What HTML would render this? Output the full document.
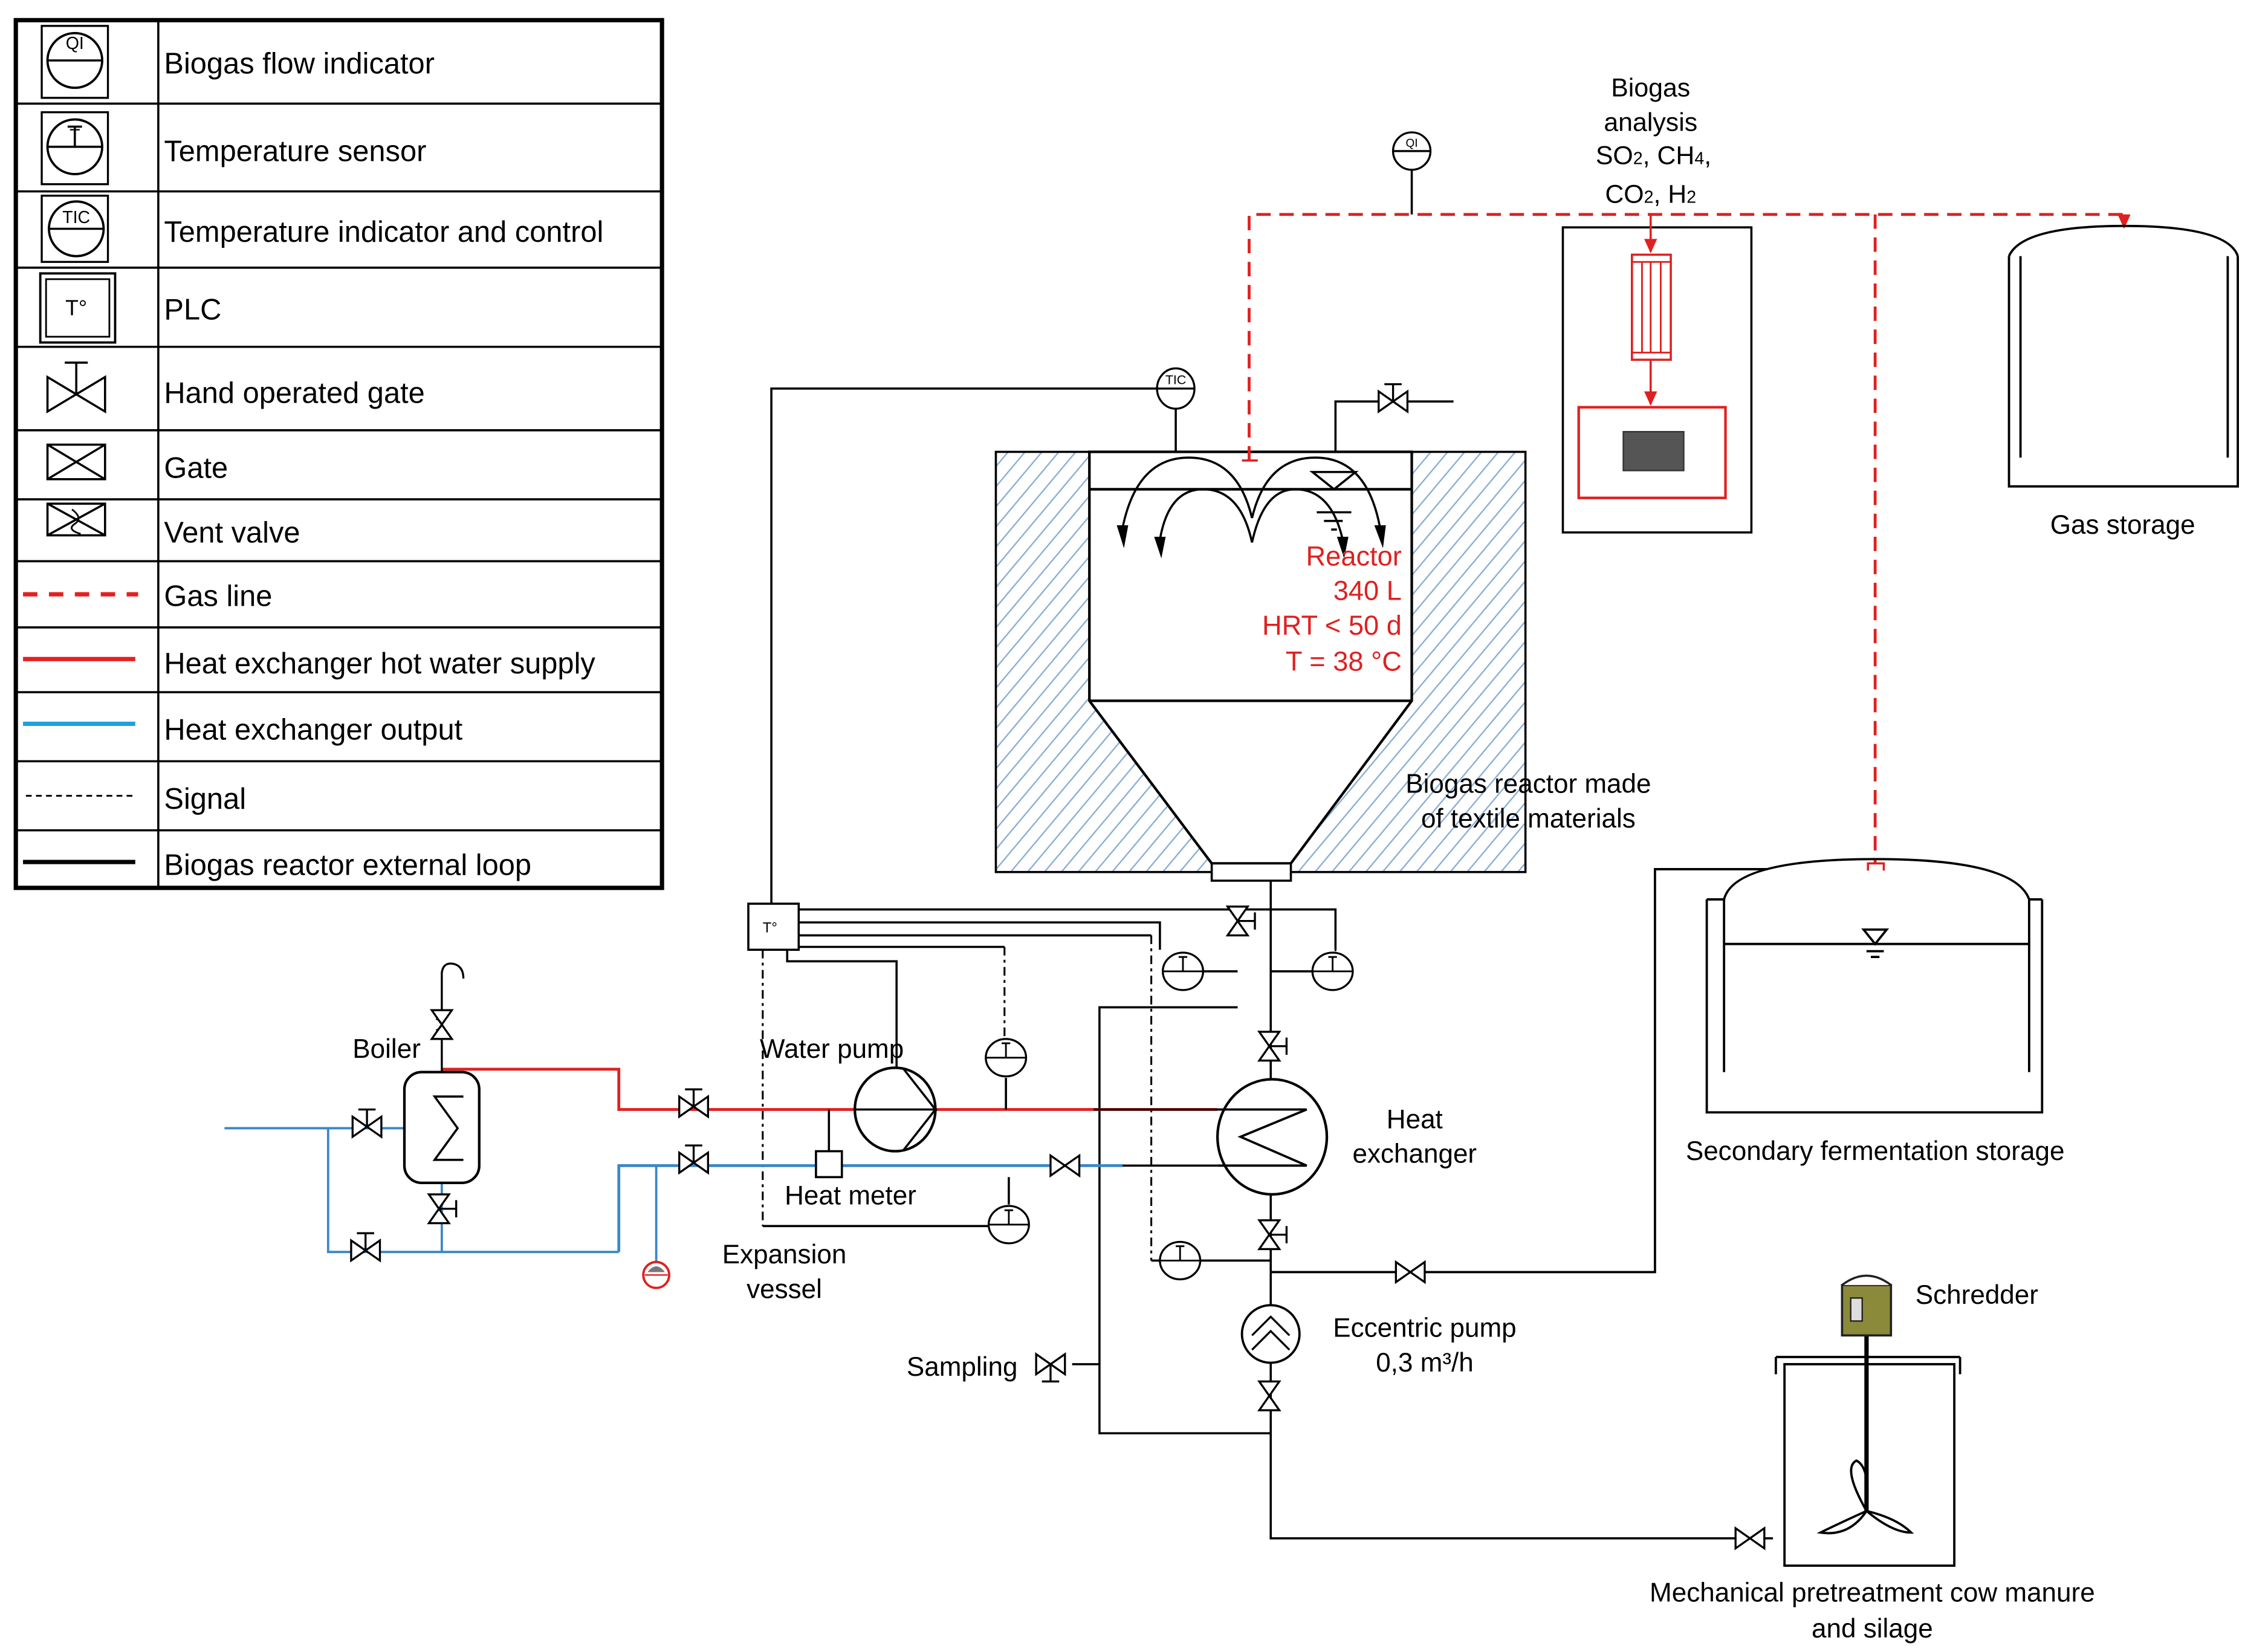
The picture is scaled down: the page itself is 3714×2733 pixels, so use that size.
<!DOCTYPE html>
<html><head><meta charset="utf-8"><style>
html,body{margin:0;padding:0;background:#fff}
svg{display:block}
text{font-family:"Liberation Sans",Arial,sans-serif}
</style></head><body>
<svg width="3714" height="2733" viewBox="0 0 1560 1148" preserveAspectRatio="none" xmlns="http://www.w3.org/2000/svg">
<defs>
<pattern id="hatch" width="9" height="9" patternUnits="userSpaceOnUse" patternTransform="rotate(40)">
<rect width="9" height="9" fill="#fff"/>
<line x1="0" y1="0" x2="0" y2="9" stroke="#8aaed6" stroke-width="2"/>
</pattern>
<g id="gate"><path d="M-10,-7 L10,7 L10,-7 L-10,7 Z" fill="#fff" stroke="#000" stroke-width="1.4"/></g>
<g id="hand"><path d="M-10,-7 L10,7 L10,-7 L-10,7 Z" fill="#fff" stroke="#000" stroke-width="1.4"/><path d="M0,0 V-12 M-6,-12 H6" stroke="#000" stroke-width="1.4" fill="none"/></g>
<g id="tsens"><ellipse cx="0" cy="0" rx="14" ry="13" fill="#fff" stroke="#000" stroke-width="1.4"/><path d="M-14,0 H14 M0,0 V-10 M-3,-10 H3" stroke="#000" stroke-width="1.2" fill="none"/></g>
<marker id="ar" markerUnits="userSpaceOnUse" markerWidth="11" markerHeight="8" refX="10" refY="4" orient="auto"><path d="M0,0 L11,4 L0,8 Z" fill="#000"/></marker>
<marker id="arr" markerUnits="userSpaceOnUse" markerWidth="10" markerHeight="9" refX="9" refY="4.5" orient="auto"><path d="M0,0 L10,4.5 L0,9 Z" fill="#e02020"/></marker>
</defs>

<!-- LEGEND -->
<g stroke="#000" fill="none">
<rect x="11" y="14" width="449" height="603" stroke-width="3"/>
<line x1="110" y1="14" x2="110" y2="617" stroke-width="1.5"/>
<g stroke-width="1.5">
<line x1="11" y1="72" x2="460" y2="72"/><line x1="11" y1="133" x2="460" y2="133"/>
<line x1="11" y1="186" x2="460" y2="186"/><line x1="11" y1="241" x2="460" y2="241"/>
<line x1="11" y1="299" x2="460" y2="299"/><line x1="11" y1="347" x2="460" y2="347"/>
<line x1="11" y1="390" x2="460" y2="390"/><line x1="11" y1="436" x2="460" y2="436"/>
<line x1="11" y1="481" x2="460" y2="481"/><line x1="11" y1="529" x2="460" y2="529"/>
<line x1="11" y1="577" x2="460" y2="577"/>
</g>
<rect x="29" y="18" width="46" height="50" stroke-width="1.4"/>
<circle cx="52" cy="42" r="19" stroke-width="1.6"/><line x1="33" y1="42" x2="71" y2="42" stroke-width="1.5"/>
<rect x="29" y="78" width="46" height="50" stroke-width="1.4"/>
<circle cx="52" cy="102" r="19" stroke-width="1.6"/><path d="M33,102 H71 M52,102 V88 M47,88 H57" stroke-width="1.5"/>
<rect x="29" y="136" width="46" height="46" stroke-width="1.4"/>
<circle cx="53" cy="159" r="19" stroke-width="1.6"/><line x1="34" y1="159" x2="72" y2="159" stroke-width="1.5"/>
<rect x="28" y="190" width="52" height="48" stroke-width="1.6"/><rect x="32" y="194" width="44" height="40" stroke-width="1.2"/>
<path d="M33,262 L73,286 L73,262 L33,286 Z M53,274 V252 M45,252 H61" stroke-width="1.5"/>
<path d="M33,309 L73,333 M73,309 L33,333" stroke-width="1.5"/><rect x="33" y="309" width="40" height="24" stroke-width="1.5"/>
<path d="M33,350 L73,372 M73,350 L33,372" stroke-width="1.5"/><rect x="33" y="350" width="40" height="22" stroke-width="1.5"/>
<path d="M50,354 Q58,360 52,364 Q46,368 56,371" stroke-width="1.2"/>
<line x1="16" y1="413" x2="96" y2="413" stroke="#e52020" stroke-width="3" stroke-dasharray="10,8"/>
<line x1="16" y1="458" x2="94" y2="458" stroke="#e52020" stroke-width="3"/>
<line x1="16" y1="503" x2="94" y2="503" stroke="#1ea0e0" stroke-width="3"/>
<line x1="18" y1="553" x2="94" y2="553" stroke-width="1.3" stroke-dasharray="4,3"/>
<line x1="16" y1="599" x2="94" y2="599" stroke-width="3"/>
</g>
<g font-size="12" text-anchor="middle"><text x="52" y="34">QI</text><text x="52" y="98">T</text><text x="53" y="155">TIC</text><text x="53" y="219" font-size="15">T°</text></g>
<g font-size="20.5" fill="#000">
<text x="114" y="51">Biogas flow indicator</text>
<text x="114" y="112">Temperature sensor</text>
<text x="114" y="168">Temperature indicator and control</text>
<text x="114" y="222">PLC</text>
<text x="114" y="280">Hand operated gate</text>
<text x="114" y="332">Gate</text>
<text x="114" y="377">Vent valve</text>
<text x="114" y="421">Gas line</text>
<text x="114" y="468">Heat exchanger hot water supply</text>
<text x="114" y="514">Heat exchanger output</text>
<text x="114" y="562">Signal</text>
<text x="114" y="608">Biogas reactor external loop</text>
</g>

<!-- REACTOR -->
<rect x="692" y="314" width="368" height="292" fill="url(#hatch)" stroke="#000" stroke-width="1.5"/>
<path d="M757,314 H981 V487 L897,600 H842 L757,487 Z" fill="#fff" stroke="#000" stroke-width="1.8"/>
<line x1="757" y1="487" x2="981" y2="487" stroke="#000" stroke-width="1.8"/>
<line x1="757" y1="340" x2="981" y2="340" stroke="#000" stroke-width="1.8"/>
<rect x="842" y="600" width="55" height="12" fill="#fff" stroke="#000" stroke-width="1.5"/>
<g fill="none" stroke="#000" stroke-width="1.5">
<path d="M780,367 Q790,318 826,318 Q860,318 870,360"/>
<path d="M870,360 Q880,318 914,318 Q950,318 959,367"/>
<path d="M806,375 Q812,340 836,340 Q862,340 870,377"/>
<path d="M870,377 Q878,340 900,340 Q925,340 933,375"/>
<path d="M912,328 H942 L927,340 Z"/>
<path d="M915,356 H939 M920,362 H933 M925,368 H929"/>
</g>
<g fill="#000">
<path d="M776,365 L784,365 L781,381 Z"/>
<path d="M955,365 L963,365 L961,381 Z"/>
<path d="M802,373 L810,373 L807,388 Z"/>
<path d="M929,373 L937,373 L934,388 Z"/>
</g>
<g fill="#e02020" font-size="19" text-anchor="end">
<text x="974" y="393">Reactor</text><text x="974" y="417">340 L</text>
<text x="974" y="441">HRT &lt; 50 d</text><text x="974" y="466">T = 38 °C</text>
</g>
<g font-size="18.5" text-anchor="middle"><text x="1062" y="551">Biogas reactor made</text><text x="1062" y="575">of textile materials</text></g>

<!-- TIC and top valve -->
<g fill="none" stroke="#000" stroke-width="1.5">
<path d="M536,628 V270 H817 V314"/>
<path d="M928,314 V279 H1010"/>
</g>
<ellipse cx="817" cy="270" rx="13" ry="14" fill="#fff" stroke="#000" stroke-width="1.4"/>
<line x1="804" y1="270" x2="830" y2="270" stroke="#000" stroke-width="1.4"/>
<text x="817" y="267" font-size="9" text-anchor="middle">TIC</text>
<use href="#hand" x="968" y="279"/>

<!-- GAS LINES -->
<g fill="none" stroke="#e02020" stroke-width="2" stroke-dasharray="10,6">
<path d="M868,320 V149 H1476"/>
<path d="M1303,149 V600"/>
</g>
<path d="M863,320 H874 M868,320 V314" stroke="#e02020" stroke-width="1.5" fill="none"/>
<path d="M1298,605 V600 H1309 V605" stroke="#e02020" stroke-width="1.5" fill="none"/>
<line x1="1476" y1="149" x2="1476" y2="158" stroke="#e02020" stroke-width="2" marker-end="url(#arr)"/>
<line x1="981" y1="118" x2="981" y2="149" stroke="#000" stroke-width="1.5"/>
<circle cx="981" cy="105" r="13" fill="#fff" stroke="#000" stroke-width="1.4"/>
<line x1="968" y1="105" x2="994" y2="105" stroke="#000" stroke-width="1.4"/>
<text x="981" y="102" font-size="8" text-anchor="middle">QI</text>

<!-- Biogas analysis -->
<rect x="1086" y="158" width="131" height="212" fill="#fff" stroke="#000" stroke-width="1.5"/>
<line x1="1147" y1="149" x2="1147" y2="175" stroke="#e02020" stroke-width="1.5" marker-end="url(#arr)"/>
<rect x="1134" y="177" width="27" height="73" fill="#fff" stroke="#e02020" stroke-width="1.5"/>
<path d="M1134,182 H1161 M1134,245 H1161 M1141,182 V245 M1147,182 V245 M1154,182 V245" stroke="#e02020" stroke-width="1.2"/>
<line x1="1147" y1="250" x2="1147" y2="281" stroke="#e02020" stroke-width="1.5" marker-end="url(#arr)"/>
<rect x="1097" y="283" width="102" height="63" fill="#fff" stroke="#e02020" stroke-width="1.8"/>
<rect x="1128" y="300" width="42" height="27" fill="#555" stroke="#333"/>
<g font-size="18" text-anchor="middle"><text x="1147" y="67">Biogas</text><text x="1147" y="91">analysis</text>
<text x="1149" y="114">SO<tspan font-size="12">2</tspan>, CH<tspan font-size="12">4</tspan>,</text>
<text x="1147" y="141">CO<tspan font-size="12">2</tspan>, H<tspan font-size="12">2</tspan></text></g>

<!-- Gas storage -->
<g fill="none" stroke="#000" stroke-width="1.6">
<path d="M1396,178 V338 H1555 V178"/>
<path d="M1396,178 Q1405,157 1476,157 Q1548,157 1555,178"/>
<path d="M1404,178 V318 M1548,178 V318"/>
</g>
<text x="1475" y="371" font-size="18.5" text-anchor="middle">Gas storage</text>

<!-- Secondary storage -->
<g fill="none" stroke="#000" stroke-width="1.6">
<path d="M1186,625 V773 H1419 V625"/>
<path d="M1186,625 H1198 M1410,625 H1419"/>
<path d="M1198,625 Q1205,597 1303,597 Q1400,597 1410,625"/>
<path d="M1198,625 V745 M1410,625 V745"/>
<line x1="1198" y1="656" x2="1410" y2="656"/>
<path d="M1295,646 H1311 L1303,656 Z M1297,661 H1309 M1300,665 H1306"/>
<path d="M1228,604 H1150 V884 H883"/>
</g>
<use href="#gate" x="980" y="884"/>
<text x="1303" y="806" font-size="18.5" text-anchor="middle">Secondary fermentation storage</text>

<!-- PLC and signal lines -->
<g fill="none" stroke="#000" stroke-width="1.5">
<path d="M555,632 H928 V660"/>
<path d="M555,641 H806 V660"/>
<path d="M555,650 H800"/>
<path d="M555,658 H698"/>
<path d="M547,660 V668 H623 V745"/>
<path d="M883,612 V752 M883,828 V1069 H1232"/>
<path d="M883,675 H912 M836,675 H860"/>
<path d="M860,700 H764 V996 H883"/>
<path d="M745,948 H764"/>
<path d="M800,876 H883"/>
<path d="M530,852 H701"/>
</g>
<g fill="none" stroke="#000" stroke-width="1.3" stroke-dasharray="6,3,2,3">
<path d="M928,632 V661"/>
<path d="M800,650 V876"/>
<path d="M698,658 V722"/>
<path d="M530,660 V852"/>
</g>
<rect x="520" y="628" width="35" height="32" fill="#fff" stroke="#000" stroke-width="1.5"/>
<text x="530" y="648" font-size="10">T°</text>
<use href="#tsens" x="926" y="675"/>
<use href="#tsens" x="822" y="675"/>
<use href="#tsens" x="820" y="876"/>
<use href="#tsens" x="699" y="735"/>
<use href="#tsens" x="701" y="851"/>
<g transform="translate(860,640) rotate(90)"><use href="#hand"/></g>
<g transform="translate(882,727) rotate(90)"><use href="#hand"/></g>
<g transform="translate(882,858) rotate(90)"><use href="#hand"/></g>
<g transform="translate(882,970) rotate(90)"><use href="#gate"/></g>
<g transform="translate(730,948) rotate(180)"><use href="#hand"/></g>
<text x="630" y="956" font-size="18.5">Sampling</text>

<!-- Heat exchanger and hot/cold lines -->
<path d="M307,743 H430 V771 H594" stroke="#e02020" stroke-width="2" fill="none"/>
<path d="M650,771 H846" stroke="#e02020" stroke-width="2" fill="none"/>
<path d="M594,771 H650 M760,771 H846 M780,810 H846" stroke="#000" stroke-width="1.5" fill="none"/>
<path d="M430,870 V810 H780" stroke="#3a88c8" stroke-width="2" fill="none"/>
<path d="M307,822 V870 M156,784 H281 M228,784 V870 H430" stroke="#3a88c8" stroke-width="1.6" fill="none"/>
<path d="M456,810 V878" stroke="#3a88c8" stroke-width="1.6"/>
<circle cx="456" cy="886" r="9" fill="#fff" stroke="#e02020" stroke-width="1.6"/>
<path d="M448,886 H464" stroke="#e02020"/><path d="M450,884 Q456,876 462,884 Z" fill="#777"/>
<ellipse cx="884" cy="790" rx="38" ry="40" fill="#fff" stroke="#000" stroke-width="1.8"/>
<path d="M846,771 H908 L862,790 L908,810 H846" fill="none" stroke="#000" stroke-width="1.6"/>
<g font-size="18.5" text-anchor="middle"><text x="983" y="784">Heat</text><text x="983" y="808">exchanger</text></g>
<ellipse cx="622" cy="771" rx="28" ry="29" fill="#fff" stroke="#000" stroke-width="1.8"/>
<path d="M594,771 H650 L628,743 M650,771 L628,799" fill="none" stroke="#000" stroke-width="1.5"/>
<text x="528" y="735" font-size="18.5">Water pump</text>
<line x1="576" y1="771" x2="576" y2="800" stroke="#000" stroke-width="1.5"/>
<rect x="567" y="800" width="18" height="18" fill="#fff" stroke="#000" stroke-width="1.5"/>
<text x="591" y="837" font-size="18.5" text-anchor="middle">Heat meter</text>
<line x1="699" y1="749" x2="699" y2="771" stroke="#000" stroke-width="1.5"/>
<line x1="701" y1="818" x2="701" y2="837" stroke="#000" stroke-width="1.5"/>
<use href="#hand" x="482" y="769"/>
<use href="#hand" x="482" y="808"/>
<use href="#gate" x="740" y="810"/>
<g font-size="18.5" text-anchor="middle"><text x="545" y="878">Expansion</text><text x="545" y="902">vessel</text></g>

<!-- Boiler -->
<rect x="281" y="745" width="52" height="77" rx="12" fill="#fff" stroke="#000" stroke-width="1.8"/>
<path d="M322,762 H302 L318,784 L302,806 H322" fill="none" stroke="#000" stroke-width="1.5"/>
<path d="M307,745 V690 M307,690 V676 Q308,668 316,670 Q322,672 322,680" fill="none" stroke="#000" stroke-width="1.4"/>
<g transform="translate(307,712) rotate(90)"><use href="#gate"/></g>
<path d="M303,708 Q311,712 303,716" stroke="#000" fill="none"/>
<g transform="translate(305,840) rotate(90)"><use href="#hand"/></g>
<use href="#hand" x="255" y="783"/>
<use href="#hand" x="254" y="869"/>
<text x="245" y="735" font-size="18.5">Boiler</text>

<!-- Eccentric pump -->
<circle cx="883" cy="927" r="20" fill="#fff" stroke="#000" stroke-width="1.6"/>
<path d="M870,928 L883,915 L896,928 M870,938 L883,925 L896,938" fill="none" stroke="#000" stroke-width="1.4"/>
<g font-size="18.5" text-anchor="middle"><text x="990" y="929">Eccentric pump</text><text x="990" y="953">0,3 m³/h</text></g>

<!-- Pretreatment tank -->
<g fill="none" stroke="#000" stroke-width="1.6">
<path d="M1234,943 H1362 M1234,943 V955 M1362,943 V955"/>
<rect x="1240" y="948" width="118" height="140"/>
<line x1="1297" y1="928" x2="1297" y2="1050" stroke-width="3"/>
<path d="M1297,1050 Q1280,1020 1290,1015 Q1300,1020 1297,1050 Q1275,1060 1265,1065 Q1285,1068 1297,1050 Q1315,1065 1328,1065 Q1318,1055 1297,1050"/>
</g>
<use href="#gate" x="1216" y="1069"/>
<rect x="1280" y="893" width="34" height="35" fill="#8a8a3a" stroke="#222" stroke-width="1.5"/>
<path d="M1280,893 Q1297,880 1314,893" fill="#fff" stroke="#222" stroke-width="1.5"/>
<rect x="1286" y="902" width="8" height="16" fill="#ddd" stroke="#222"/>
<text x="1331" y="906" font-size="18.5">Schredder</text>
<g font-size="18.5" text-anchor="middle"><text x="1301" y="1113">Mechanical pretreatment cow manure</text><text x="1301" y="1138">and silage</text></g>
</svg>
</body></html>
